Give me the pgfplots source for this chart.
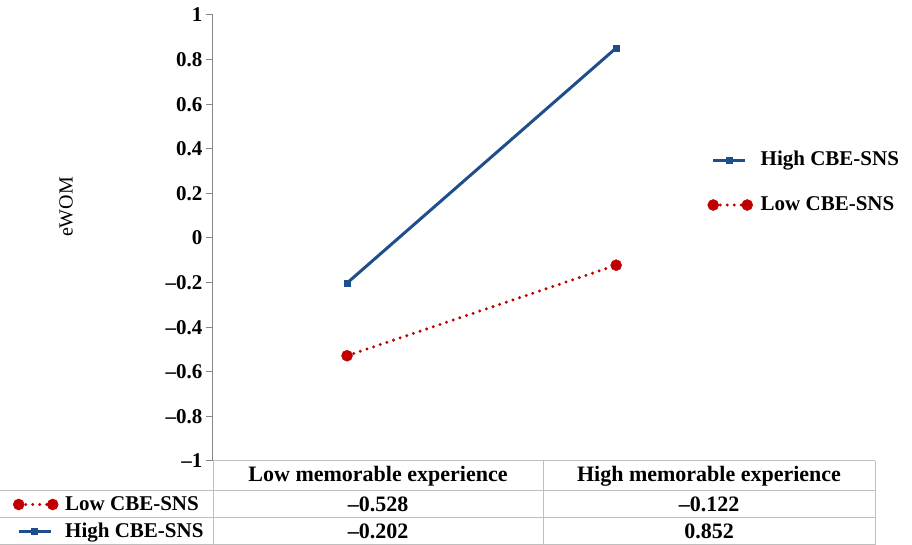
\documentclass[border=0pt]{standalone}
\usepackage{fontspec}
\setmainfont{Liberation Serif}
\usepackage{pgfplots}
\pgfplotsset{compat=1.18}

\definecolor{hiblue}{HTML}{1F4E8C}
\definecolor{lored}{HTML}{C00000}
\definecolor{axgray}{HTML}{868686}
\definecolor{tabgray}{HTML}{BFBFBF}

\pgfplotsset{
  hiline/.style={color=hiblue, line width=3pt, mark=square*, mark size=3pt,
    mark options={solid, line width=0.5pt}},
  loline/.style={color=lored, line width=3.3pt, line cap=round,
    dash pattern=on 0pt off 7pt, mark=*, mark size=5.5pt, mark options={solid, line width=0.5pt}},
  hileg/.style={legend image code/.code={
    \draw[##1, mark repeat=2, mark phase=2] plot coordinates {(0pt,0pt) (16pt,0pt) (32pt,0pt)};}},
  loleg/.style={legend image code/.code={
    \draw[##1, mark size=5.5pt, mark repeat=2, mark phase=1] plot coordinates {(0pt,0pt) (17pt,0pt) (34pt,0pt)};}},
}

\begin{document}
\begin{tikzpicture}
\path[use as bounding box] (-213pt,-84pt) rectangle (699pt,461pt);

\begin{axis}[
  scale only axis, width=662pt, height=446pt,
  xmin=0, xmax=2, ymin=-1, ymax=1,
  clip=false,
  axis x line=none,
  axis y line*=left,
  y axis line style={axgray, line width=1pt, -},
  ytick={-1,-0.8,...,1.01},
  yticklabels={--1,--0.8,--0.6,--0.4,--0.2,0,0.2,0.4,0.6,0.8,1},
  tick style={axgray, line width=1pt},
  major tick length=7pt,
  ytick align=outside,
  yticklabel style={font=\fontsize{21}{23}\selectfont\bfseries, xshift=0pt},
  ylabel={eWOM},
  ylabel style={font=\fontsize{20}{22}\selectfont, at={(axis description cs:-0.222,0.5695)}, anchor=center, rotate=0},
  legend style={draw=none, fill=none, at={(axis description cs:0.7425,0.6244)}, anchor=west,
    font=\fontsize{21}{23}\selectfont\bfseries,
    nodes={inner sep=0pt, text height=15pt, text depth=4pt},
    row sep=26pt, column sep=8pt},
  legend cell align=left,
]
\addplot[hiline, hileg] coordinates {(0.405,-0.202) (1.218,0.852)};
\addlegendentry{High CBE-SNS}
\addplot[loline, loleg] coordinates {(0.405,-0.528) (1.218,-0.122)};
\addlegendentry{Low CBE-SNS}
\end{axis}

% legend keys of the data table
\begin{axis}[
  scale only axis, width=662pt, height=446pt,
  xmin=0, xmax=1, ymin=0, ymax=1, hide axis,
  legend style={draw=none, fill=none, at={(axis description cs:-0.3066,-0.1278)}, anchor=west,
    font=\fontsize{21}{23}\selectfont\bfseries,
    nodes={inner sep=0pt, text height=15pt, text depth=4pt},
    row sep=8pt, column sep=7pt},
  legend cell align=left,
]
\addlegendimage{loline, loleg}
\addlegendentry{Low CBE-SNS}
\addlegendimage{hiline, hileg}
\addlegendentry{High CBE-SNS}
\end{axis}

% data table grid
\draw[tabgray, line width=1pt] (0pt,0pt) -- (662pt,0pt);
\draw[tabgray, line width=1pt] (-213pt,-30pt) -- (662pt,-30pt);
\draw[tabgray, line width=1pt] (-213pt,-57pt) -- (662pt,-57pt);
\draw[tabgray, line width=1pt] (-213pt,-83.5pt) -- (662pt,-83.5pt);
\draw[tabgray, line width=1pt] (0pt,0pt) -- (0pt,-84pt);
\draw[tabgray, line width=1pt] (330pt,0pt) -- (330pt,-84pt);
\draw[tabgray, line width=1pt] (662pt,0pt) -- (662pt,-84pt);

\begin{scope}[every node/.style={font=\fontsize{22}{24}\selectfont\bfseries, anchor=center, inner sep=0pt}]
\node at (165pt,-15pt) {Low memorable experience};
\node at (496pt,-15pt) {High memorable experience};
\node at (165pt,-43.5pt) {--0.528};
\node at (496pt,-43.5pt) {--0.122};
\node at (165pt,-70.5pt) {--0.202};
\node at (496pt,-70.5pt) {0.852};
\end{scope}
\end{tikzpicture}
\end{document}
